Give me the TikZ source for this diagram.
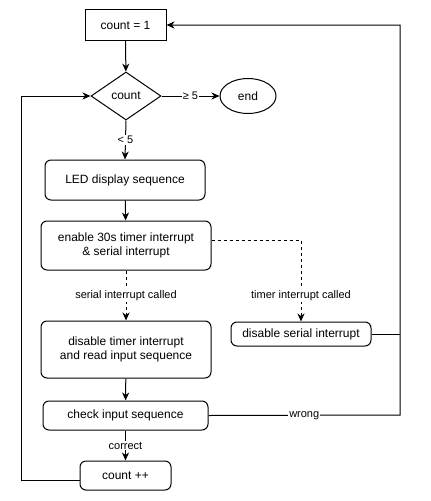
\documentclass[tikz,border=0pt]{standalone}
\usepackage{fontspec}
\setmainfont{Liberation Sans}
\usetikzlibrary{arrows.meta,shapes.geometric}
\begin{document}
\begin{tikzpicture}[x=1pt,y=-1pt,
  every node/.style={font=\fontsize{12}{14}\selectfont, inner sep=0pt},
  box/.style={draw, line width=1pt, rounded corners=6pt, align=center},
  sqbox/.style={draw, line width=1pt, align=center},
  lbl/.style={font=\fontsize{11}{13}\selectfont, fill=white, inner sep=1pt},
  conn/.style={line width=1pt},
  arr/.style={conn, -{Stealth[length=8pt,width=7pt,inset=2.5pt]}},
  dsh/.style={arr, dashed, dash pattern=on 3pt off 3pt}]
\useasboundingbox (0,0) rectangle (431,501);
\node[sqbox, minimum width=81pt, minimum height=31pt] (c1) at (125.5,25) {count = 1};
\node[draw, line width=1pt, diamond, minimum width=70pt, minimum height=48pt] (dia) at (126,96) {count};
\node[draw, line width=1pt, ellipse, minimum width=56pt, minimum height=35pt] (end) at (248,96) {end};
\node[box, minimum width=160pt, minimum height=40pt] (led) at (125,180) {LED display sequence};
\node[box, minimum width=170pt, minimum height=49pt] (en) at (126,245.5) {enable 30s timer interrupt\\ \& serial interrupt};
\node[box, minimum width=170pt, minimum height=57pt] (dt) at (126,349.5) {disable timer interrupt\\and read input sequence};
\node[box, minimum width=140pt, minimum height=24pt] (ds) at (301,334) {disable serial interrupt};
\node[box, minimum width=165pt, minimum height=29pt] (chk) at (125.5,415.5) {check input sequence};
\node[box, minimum width=91pt, minimum height=29pt] (cpp) at (125.5,475.5) {count ++};
\coordinate (tc) at (301,240);
\coordinate (rb) at (400,415);
\coordinate (rt) at (400,25);
\coordinate (lp) at (21,480);
\draw[arr] (c1) -- (dia);
\draw[arr] (dia.east) -- node[lbl]{≥ 5} (end.west);
\draw[arr] (dia.south) -- node[lbl]{< 5} (led.north);
\draw[arr] (led) -- (en);
\draw[dsh] (en.east |- tc) -- (tc) -- node[lbl, pos=0.68]{timer interrupt called} (ds.north);
\draw[dsh] (en.south) -- node[lbl]{serial interrupt called} (dt.north);
\draw[arr] (dt) -- (chk);
\draw[arr] (chk.south) -- node[lbl]{correct} (cpp.north);
\draw[arr] (chk.east) -- node[lbl, pos=0.5]{wrong} (rb) -- (rt) -- (c1.east);
\draw[conn] (ds.east) -- (ds.east -| rb);
\draw[arr] (cpp.west |- lp) -- (lp) -- (lp |- dia.west) -- (dia.west);
\end{tikzpicture}
\end{document}
